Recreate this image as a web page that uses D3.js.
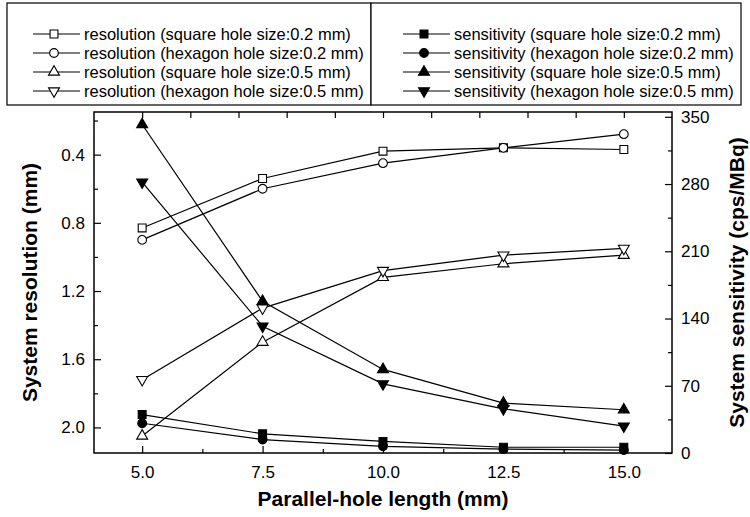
<!DOCTYPE html>
<html>
<head>
<meta charset="utf-8">
<script src="https://cdn.jsdelivr.net/npm/d3@7/dist/d3.min.js"></script>
<style>
  body { margin: 0; background: #fff; }
  svg text { font-family: "Liberation Sans", Arial, Helvetica, sans-serif; fill: #000; }
</style>
</head>
<body>
<div id="chart"></div>
<script>
// parallel-hole length (mm)
var lengths = [5.0, 7.5, 10.0, 12.5, 15.0];

// system resolution (mm), left axis
var resSquare02 = [0.83, 0.54, 0.38, 0.36, 0.37];
var resHexagon02 = [0.90, 0.60, 0.45, 0.36, 0.28];
var resSquare05 = [2.05, 1.50, 1.12, 1.04, 0.99];
var resHexagon05 = [1.72, 1.30, 1.08, 0.99, 0.95];

// system sensitivity (cps/MBq), right axis
var sensSquare02 = [40, 20, 12, 6, 6];
var sensHexagon02 = [31, 14, 7, 4, 3];
var sensSquare05 = [342, 158, 87, 52, 45];
var sensHexagon05 = [282, 132, 72, 46, 28];

var xTicks = [5.0, 7.5, 10.0, 12.5, 15.0];
var xMinorTicks = [6.25, 8.75, 11.25, 13.75];
var xTopTicks = [5, 6, 7, 8, 9, 10, 11, 12, 13, 14, 15];
var resTicks = [0.4, 0.8, 1.2, 1.6, 2.0];
var resMinorTicks = [0.2, 0.6, 1.0, 1.4, 1.8];
var sensTicks = [0, 70, 140, 210, 280, 350];
var sensMinorTicks = [35, 105, 175, 245, 315];

var resLabels = ["resolution (square hole size:0.2 mm)", "resolution (hexagon hole size:0.2 mm)",
    "resolution (square hole size:0.5 mm)", "resolution (hexagon hole size:0.5 mm)"];
var sensLabels = ["sensitivity (square hole size:0.2 mm)", "sensitivity (hexagon hole size:0.2 mm)",
    "sensitivity (square hole size:0.5 mm)", "sensitivity (hexagon hole size:0.5 mm)"];

var Chart = (function () {
    function Chart(select) {
        this.box = { left: 94, right: 672, top: 112, bottom: 453 };
        this.svg = d3.select(select)
            .append("svg")
            .attr("width", 750)
            .attr("height", 517);
        this.x = d3.scaleLinear().domain([4, 16]).range([this.box.left, this.box.right]);
        this.yRes = d3.scaleLinear().domain([0.15, 2.15]).range([this.box.top, this.box.bottom]);
        this.ySens = d3.scaleLinear().domain([0, 355]).range([this.box.bottom, this.box.top]);
        this.series = [
            { values: resSquare02, y: this.yRes, shape: "square", filled: false, label: resLabels[0] },
            { values: resHexagon02, y: this.yRes, shape: "circle", filled: false, label: resLabels[1] },
            { values: resSquare05, y: this.yRes, shape: "up", filled: false, label: resLabels[2] },
            { values: resHexagon05, y: this.yRes, shape: "down", filled: false, label: resLabels[3] },
            { values: sensSquare02, y: this.ySens, shape: "square", filled: true, label: sensLabels[0] },
            { values: sensHexagon02, y: this.ySens, shape: "circle", filled: true, label: sensLabels[1] },
            { values: sensSquare05, y: this.ySens, shape: "up", filled: true, label: sensLabels[2] },
            { values: sensHexagon05, y: this.ySens, shape: "down", filled: true, label: sensLabels[3] }
        ];
        this.doDraw();
    }
    Chart.prototype.marker = function (g, shape, filled) {
        var types = { square: [d3.symbolSquare, 62], circle: [d3.symbolCircle, 60],
            up: [d3.symbolTriangle, 52], down: [d3.symbolTriangle, 52] };
        var t = types[shape];
        g.append("path")
            .attr("d", d3.symbol().type(t[0]).size(t[1])())
            .attr("transform", shape === "down" ? "rotate(180)" : null)
            .style("fill", filled ? "#000" : "#fff")
            .style("stroke", "#000")
            .style("stroke-width", 1.1);
    };
    Chart.prototype.doDrawAxes = function () {
        var b = this.box, svg = this.svg;
        function styleAxis(g) {
            g.select(".domain").remove();
            g.selectAll("line").style("stroke", "#000").style("stroke-width", 1.2);
            g.selectAll("text").style("font-size", "17px");
        }
        svg.append("g").attr("transform", "translate(0," + b.bottom + ")")
            .call(d3.axisBottom(this.x).tickValues(xTicks).tickFormat(d3.format(".1f"))
                .tickSizeInner(-7).tickSizeOuter(0).tickPadding(13))
            .call(styleAxis);
        svg.append("g").attr("transform", "translate(0," + b.bottom + ")")
            .call(d3.axisBottom(this.x).tickValues(xMinorTicks).tickFormat("").tickSize(-4))
            .call(styleAxis);
        svg.append("g").attr("transform", "translate(0," + b.top + ")")
            .call(d3.axisTop(this.x).tickValues(xTopTicks).tickFormat("").tickSize(-6))
            .call(styleAxis);
        svg.append("g").attr("transform", "translate(" + b.left + ",0)")
            .call(d3.axisLeft(this.yRes).tickValues(resTicks).tickFormat(d3.format(".1f"))
                .tickSizeInner(-7).tickSizeOuter(0).tickPadding(9))
            .call(styleAxis);
        svg.append("g").attr("transform", "translate(" + b.left + ",0)")
            .call(d3.axisLeft(this.yRes).tickValues(resMinorTicks).tickFormat("").tickSize(-4))
            .call(styleAxis);
        svg.append("g").attr("transform", "translate(" + b.right + ",0)")
            .call(d3.axisRight(this.ySens).tickValues(sensTicks).tickFormat(d3.format("d"))
                .tickSizeInner(-7).tickSizeOuter(0).tickPadding(9))
            .call(styleAxis);
        svg.append("g").attr("transform", "translate(" + b.right + ",0)")
            .call(d3.axisRight(this.ySens).tickValues(sensMinorTicks).tickFormat("").tickSize(-4))
            .call(styleAxis);
        svg.append("rect")
            .attr("x", b.left).attr("y", b.top)
            .attr("width", b.right - b.left).attr("height", b.bottom - b.top)
            .style("fill", "none").style("stroke", "#000").style("stroke-width", 1.5);

        svg.append("text")
            .attr("x", (b.left + b.right) / 2).attr("y", 506)
            .attr("text-anchor", "middle")
            .style("font-size", "21px").style("font-weight", "bold")
            .text("Parallel-hole length (mm)");
        svg.append("text")
            .attr("transform", "translate(37," + (b.top + b.bottom) / 2 + ") rotate(-90)")
            .attr("text-anchor", "middle")
            .style("font-size", "21px").style("font-weight", "bold")
            .text("System resolution (mm)");
        svg.append("text")
            .attr("transform", "translate(744," + (b.top + b.bottom) / 2 + ") rotate(-90)")
            .attr("text-anchor", "middle")
            .style("font-size", "21px").style("font-weight", "bold")
            .text("System sensitivity (cps/MBq)");
    };
    Chart.prototype.doDrawSeries = function () {
        var _this = this;
        this.series.forEach(function (s) {
            var line = d3.line()
                .x(function (d, i) { return _this.x(lengths[i]); })
                .y(function (d) { return s.y(d); });
            _this.svg.append("path")
                .datum(s.values)
                .attr("d", line)
                .style("fill", "none")
                .style("stroke", "#000")
                .style("stroke-width", 1.2);
        });
        this.series.forEach(function (s) {
            _this.svg.append("g").selectAll("g")
                .data(s.values)
                .enter()
                .append("g")
                .attr("transform", function (d, i) {
                    return "translate(" + _this.x(lengths[i]) + "," + s.y(d) + ")";
                })
                .each(function () { _this.marker(d3.select(this), s.shape, s.filled); });
        });
    };
    Chart.prototype.doDrawLegend = function () {
        var _this = this, svg = this.svg;
        var rowY = d3.scalePoint().domain(d3.range(4)).range([34, 91]);
        svg.append("rect").attr("x", 7).attr("y", 3).attr("width", 364).attr("height", 102)
            .style("fill", "#fff").style("stroke", "#000").style("stroke-width", 1.2);
        svg.append("rect").attr("x", 371).attr("y", 3).attr("width", 370).attr("height", 102)
            .style("fill", "#fff").style("stroke", "#000").style("stroke-width", 1.2);
        var cols = [{ x: 33, items: this.series.slice(0, 4) }, { x: 403, items: this.series.slice(4) }];
        cols.forEach(function (c) {
            c.items.forEach(function (s, i) {
                var g = svg.append("g").attr("transform", "translate(0," + rowY(i) + ")");
                g.append("line").attr("x1", c.x).attr("x2", c.x + 47)
                    .style("stroke", "#000").style("stroke-width", 1.2);
                _this.marker(g.append("g").attr("transform", "translate(" + (c.x + 21) + ",0)"), s.shape, s.filled);
                g.append("text").attr("x", c.x + 51).attr("dy", "0.35em")
                    .style("font-size", "16.5px")
                    .text(s.label);
            });
        });
    };
    Chart.prototype.doDraw = function () {
        this.doDrawLegend();
        this.doDrawAxes();
        this.doDrawSeries();
    };
    return Chart;
}());

new Chart("#chart");
</script>
</body>
</html>
